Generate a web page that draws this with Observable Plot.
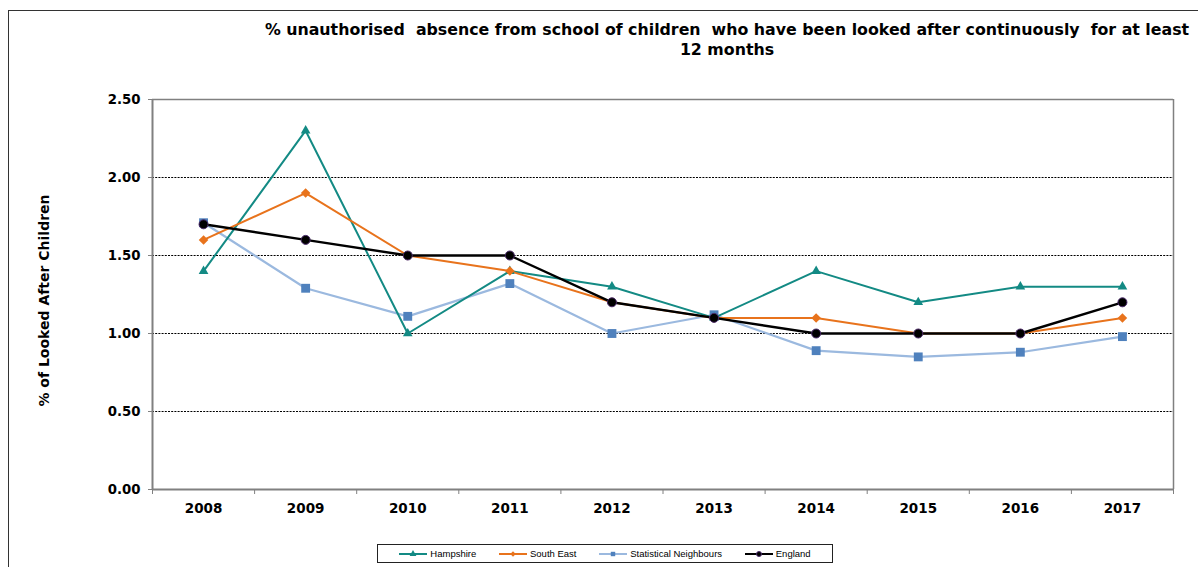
<!DOCTYPE html>
<html>
<head>
<meta charset="utf-8">
<script src="https://cdn.jsdelivr.net/npm/d3@7"></script>
<script src="https://cdn.jsdelivr.net/npm/@observablehq/plot@0.6"></script>
<style>
  html, body { margin: 0; padding: 0; background: #fff; overflow: hidden; }
  #frame { position: absolute; left: 8px; top: 10px; width: 1300px; height: 700px; border: 1px solid #333; box-sizing: border-box; }
  #chart { position: absolute; left: 0; top: 0; }
  #title { position: absolute; left: 227px; top: 20px; width: 1000px; text-align: center;
           font-family: "DejaVu Sans", Verdana, sans-serif; font-weight: bold; font-size: 15.8px;
           line-height: 20px; white-space: pre; color: #000; }
  #legend { position: absolute; left: 377px; top: 544px; width: 456px; height: 19px; box-sizing: border-box;
            border: 1px solid #222; display: flex; align-items: center; justify-content: space-around;
            font-family: "Liberation Sans", Arial, sans-serif; font-size: 9.5px; color: #000; padding: 0 10px; }
  #legend .item { display: flex; align-items: center; gap: 3px; }
</style>
</head>
<body>
<div id="frame"></div>
<div id="chart"></div>
<div id="title">% unauthorised  absence from school of children  who have been looked after continuously  for at least
12 months</div>
<div id="legend"></div>
<script>
// School years shown on the x axis
const years = [2008, 2009, 2010, 2011, 2012, 2013, 2014, 2015, 2016, 2017];

// % unauthorised absence per area
const hampshire   = [1.4, 2.3, 1.0, 1.4, 1.3, 1.1, 1.4, 1.2, 1.3, 1.3];
const southEast   = [1.6, 1.9, 1.5, 1.4, 1.2, 1.1, 1.1, 1.0, 1.0, 1.1];
const statNeigh   = [1.71, 1.29, 1.11, 1.32, 1.0, 1.12, 0.89, 0.85, 0.88, 0.98];
const england     = [1.7, 1.6, 1.5, 1.5, 1.2, 1.1, 1.0, 1.0, 1.0, 1.2];

// Y axis ticks
const yTicks = [0, 0.5, 1.0, 1.5, 2.0, 2.5];

const seriesDefs = [
  { name: "Statistical Neighbours", values: statNeigh, line: "#9bb9df", mark: "#4f81bd", symbol: "square", r: 5, width: 2.2 },
  { name: "Hampshire",              values: hampshire, line: "#138a84", mark: "#138a84", symbol: "triangle", r: 3.6, width: 2 },
  { name: "South East",             values: southEast, line: "#e8731c", mark: "#e8731c", symbol: "diamond2", r: 4.3, width: 2 },
  { name: "England",                values: england,   line: "#000000", mark: "#000000", symbol: "circle", r: 4.5, width: 2.4, outline: "#4a2a6a" }
];

const rows = s => years.map((yr, i) => ({ year: yr, value: s.values[i], series: s.name }));

// Band boundaries between the years, used for the category ticks and frame
const edges = years.map(y => y - 0.5).concat([years[years.length - 1] + 0.5]);
const xMin = edges[0], xMax = edges[edges.length - 1];
const yMax = yTicks[yTicks.length - 1];
const grid = yTicks.slice(1, -1);

const marks = [
  Plot.ruleY(grid, { stroke: "#000", strokeWidth: 1, strokeDasharray: "2,1.2" }),
  Plot.ruleY([yMax], { stroke: "#808080", strokeWidth: 1.5 }),
  Plot.ruleX([xMax], { stroke: "#808080", strokeWidth: 1.5 }),
  Plot.ruleX([xMin], { stroke: "#808080", strokeWidth: 2 }),
  Plot.ruleY([0], { stroke: "#808080", strokeWidth: 2 }),
  Plot.axisY({ ticks: yTicks, tickSize: 4, tickPadding: 8, tickFormat: d3.format(".2f"),
               label: "% of Looked After Children", labelAnchor: "center", labelArrow: "none", labelOffset: 113,
               stroke: "#808080", fontWeight: "bold", fontSize: 13.3 }),
  Plot.axisX({ ticks: edges, tickSize: 5, tickFormat: () => "", stroke: "#808080", label: null }),
  Plot.axisX({ ticks: years, tickSize: 0, tickPadding: 14, tickFormat: d => String(d), label: null,
               fontWeight: "bold", fontSize: 13.5 })
];

for (const s of seriesDefs) {
  const data = rows(s);
  marks.push(Plot.line(data, { x: "year", y: "value", stroke: s.line, strokeWidth: s.width }));
}
for (const s of seriesDefs) {
  const data = rows(s);
  marks.push(Plot.dot(data, { x: "year", y: "value", symbol: () => s.symbol, r: s.r, fill: s.mark,
                              stroke: s.outline || "none", strokeWidth: s.outline ? 1 : 0 }));
}

const chart = Plot.plot({
  width: 1198,
  height: 530,
  marginLeft: 152,
  marginRight: 25,
  marginTop: 99,
  marginBottom: 41,
  style: { fontFamily: "'DejaVu Sans', Verdana, sans-serif", fontSize: "13px", color: "#000", background: "transparent", overflow: "visible" },
  x: { domain: [xMin, xMax] },
  y: { domain: [0, yMax] },
  symbol: { type: "identity" },
  marks
});
chart.querySelectorAll("g[aria-label='y-axis label']").forEach(g => {
  g.setAttribute("transform", "translate(0,6) " + (g.getAttribute("transform") || ""));
  g.querySelectorAll("text").forEach(t => { t.style.fontSize = "14px"; t.style.fontWeight = "bold"; });
});
document.getElementById("chart").appendChild(chart);

// Legend: in series order as listed
const legendOrder = ["Hampshire", "South East", "Statistical Neighbours", "England"];
const legend = d3.select("#legend");
for (const name of legendOrder) {
  const s = seriesDefs.find(d => d.name === name);
  const item = legend.append("div").attr("class", "item");
  const svg = item.append("svg").attr("width", 28).attr("height", 10);
  svg.append("line").attr("x1", 0).attr("x2", 28).attr("y1", 5).attr("y2", 5)
     .attr("stroke", s.line).attr("stroke-width", 2);
  const sym = { square: d3.symbolSquare, triangle: d3.symbolTriangle, diamond2: d3.symbolDiamond2, circle: d3.symbolCircle }[s.symbol];
  svg.append("path").attr("transform", "translate(14,5)")
     .attr("d", d3.symbol(sym, Math.PI * 2.5 * 2.5)())
     .attr("fill", s.mark).attr("stroke", s.outline || "none");
  item.append("span").text(name);
}
</script>
</body>
</html>
